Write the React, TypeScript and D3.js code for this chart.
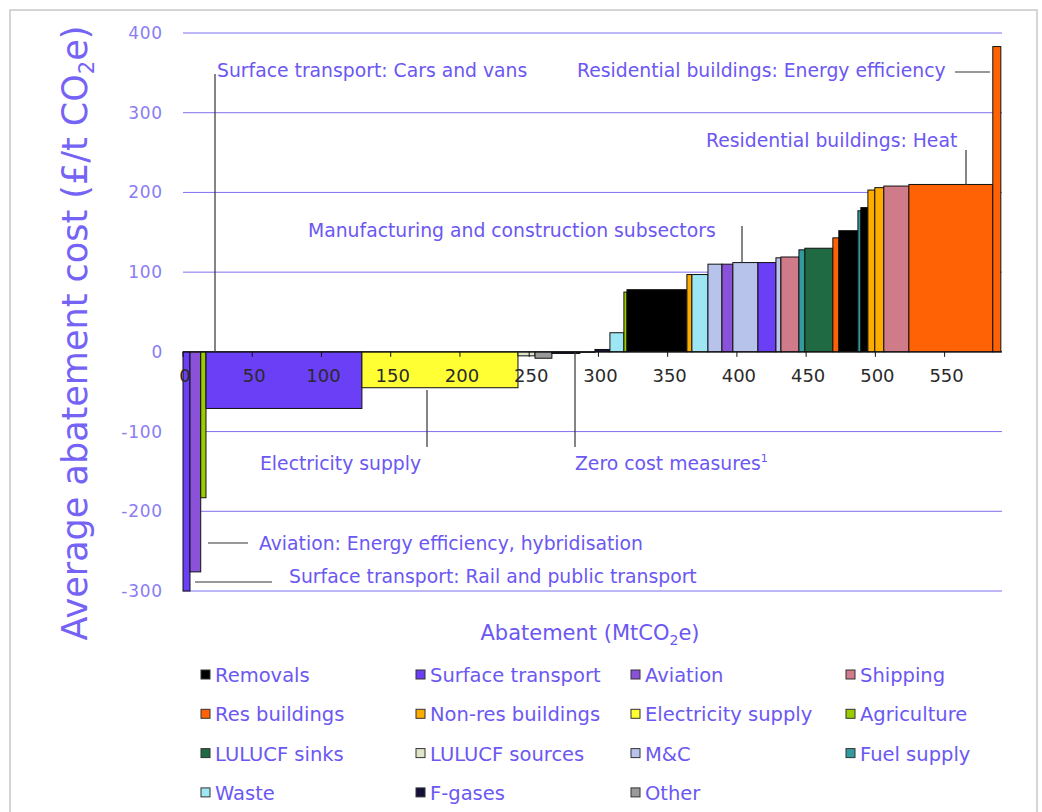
import React from "react";
import * as d3 from "d3";

const categories = [
  "Removals", "Surface transport", "Aviation", "Shipping",
  "Res buildings", "Non-res buildings", "Electricity supply", "Agriculture",
  "LULUCF sinks", "LULUCF sources", "M&C", "Fuel supply",
  "Waste", "F-gases", "Other",
];
const categoryColors = [
  "#000000", "#6a3ff6", "#8a52d8", "#cf7b8a",
  "#ff6205", "#ffac00", "#ffff33", "#9acc00",
  "#1f6a42", "#e1e4c8", "#b7c3ea", "#339aa0",
  "#9ee6f3", "#15103a", "#9a9a9a",
];

const barSectors = [
  "Surface transport", "Aviation", "Agriculture", "Surface transport", "Electricity supply",
  "LULUCF sources", "Other", "F-gases", "Other", "F-gases", "Waste", "Agriculture",
  "Removals", "Non-res buildings", "Waste", "M&C", "Aviation", "M&C", "Surface transport",
  "M&C", "Shipping", "Fuel supply", "LULUCF sinks", "Res buildings", "Removals",
  "Fuel supply", "Removals", "Non-res buildings", "Non-res buildings", "Shipping",
  "Res buildings", "Res buildings",
];
const barWidths = [
  5.05, 7.75, 3.8, 112.6, 112.7,
  12.3, 12.2, 20.2, 10.9, 10.8, 10.1, 2.2,
  43.3, 3.6, 11.6, 10.1, 7.9, 18.1, 13.0,
  3.6, 13.0, 4.3, 20.2, 4.3, 13.8,
  2.1, 5.1, 5.0, 6.5, 18.1,
  60.6, 5.8,
];
const barCosts = [
  -300, -276, -183, -71, -45,
  -5, -8, -2, 0, 3, 24, 75,
  78, 97, 97, 110, 110, 112, 112,
  118, 119, 128, 130, 143, 152,
  177, 181, 203, 206, 208,
  210, 383,
];

const xTicks = [0, 50, 100, 150, 200, 250, 300, 350, 400, 450, 500, 550];
const yTicks = [-300, -200, -100, 0, 100, 200, 300, 400];

const annotations = [
  { text: "Surface transport: Cars and vans", tx: 217, ty: 77, line: [215, 74, 215, 352] },
  { text: "Residential buildings: Energy efficiency", tx: 577, ty: 77, line: [955, 72, 990, 72] },
  { text: "Residential buildings: Heat", tx: 706, ty: 147, line: [966, 150, 966, 185] },
  { text: "Manufacturing and construction subsectors", tx: 308, ty: 237, line: [742, 226, 742, 263] },
  { text: "Electricity supply", tx: 260, ty: 470, line: [427, 390, 427, 447] },
  { text: "Zero cost measures", sup: "1", tx: 575, ty: 470, line: [575, 352, 575, 447] },
  { text: "Aviation: Energy efficiency, hybridisation", tx: 259, ty: 550, line: [208, 543, 248, 543] },
  { text: "Surface transport: Rail and public transport", tx: 289, ty: 583, line: [195, 582, 272, 582] },
];

const FONT = "'DejaVu Sans', sans-serif";
const TEXT_COLOR = "#6b57f2";
const GRID_COLOR = "#7f70f0";

export default function App() {
  const x = d3.scaleLinear().domain([0, 590]).range([183, 1000]);
  const y = d3.scaleLinear().domain([-300, 400]).range([591, 33]);
  const color = d3.scaleOrdinal<string, string>().domain(categories).range(categoryColors);

  const starts = d3.cumsum([0, ...barWidths]);
  const bars = barWidths.map((w, i) => ({
    x0: starts[i],
    x1: starts[i] + w,
    cost: barCosts[i],
    sector: barSectors[i],
  }));

  return (
    <svg width={1042} height={812} style={{ position: "absolute", left: 0, top: 0, background: "#fff" }}>
      <rect x={10} y={10} width={1027} height={820} fill="#fff" stroke="#c8c8c8" strokeWidth={1.5} />
      {yTicks.filter((t) => t !== 0).map((t) => (
        <line key={"g" + t} x1={183} x2={1002} y1={y(t)} y2={y(t)} stroke={GRID_COLOR} strokeWidth={1} />
      ))}
      {yTicks.map((t) => (
        <text key={"yl" + t} x={163} y={y(t) + 6} textAnchor="end" fontFamily={FONT} fontSize={17}
          fill="#8a7cf2" letterSpacing={0.8}>{t}</text>
      ))}
      {bars.map((b, i) => (
        <rect key={"b" + i}
          x={x(b.x0)} width={Math.max(0.5, x(b.x1) - x(b.x0))}
          y={Math.min(y(0), y(b.cost))} height={Math.max(0.5, Math.abs(y(b.cost) - y(0)))}
          fill={color(b.sector)} stroke="#111" strokeWidth={1} />
      ))}
      <line x1={183} x2={1002} y1={y(0)} y2={y(0)} stroke="#111" strokeWidth={1.2} />
      {xTicks.map((t) => (
        <g key={"xt" + t}>
          <line x1={x(t)} x2={x(t)} y1={y(0)} y2={y(0) + 5} stroke="#111" />
          <text x={x(t) + 2} y={y(0) + 30} textAnchor="middle" fontFamily={FONT} fontSize={18} fill="#2a2a2a">{t}</text>
        </g>
      ))}
      {annotations.map((a, i) => (
        <g key={"a" + i}>
          <line x1={a.line[0]} y1={a.line[1]} x2={a.line[2]} y2={a.line[3]} stroke="#333" strokeWidth={1.2} />
          <text x={a.tx} y={a.ty} fontFamily={FONT} fontSize={18.8} fill={TEXT_COLOR}>
            {a.text}
            {a.sup ? <tspan fontSize={11} dy={-8}>{a.sup}</tspan> : null}
          </text>
        </g>
      ))}
      <text transform={`translate(87,333) rotate(-90)`} textAnchor="middle" fontFamily={FONT} fontSize={35}
        fill="#7563f5">
        Average abatement cost (£/t CO<tspan fontSize={21} dy={7}>2</tspan><tspan dy={-7}>e)</tspan>
      </text>
      <text x={590} y={640} textAnchor="middle" fontFamily={FONT} fontSize={21} fill={TEXT_COLOR}>
        Abatement (MtCO<tspan fontSize={14} dy={5}>2</tspan><tspan dy={-5}>e)</tspan>
      </text>
      {categories.map((c, i) => {
        const col = i % 4;
        const row = Math.floor(i / 4);
        const tx = [215, 430, 645, 860][col];
        const ty = 675 + row * 39.3;
        return (
          <g key={"l" + c}>
            <rect x={tx - 14} y={ty - 5} width={9} height={9} fill={categoryColors[i]} stroke="#333" strokeWidth={1} />
            <text x={tx} y={ty + 7} fontFamily={FONT} fontSize={19.5} fill={TEXT_COLOR}>{c}</text>
          </g>
        );
      })}
    </svg>
  );
}
